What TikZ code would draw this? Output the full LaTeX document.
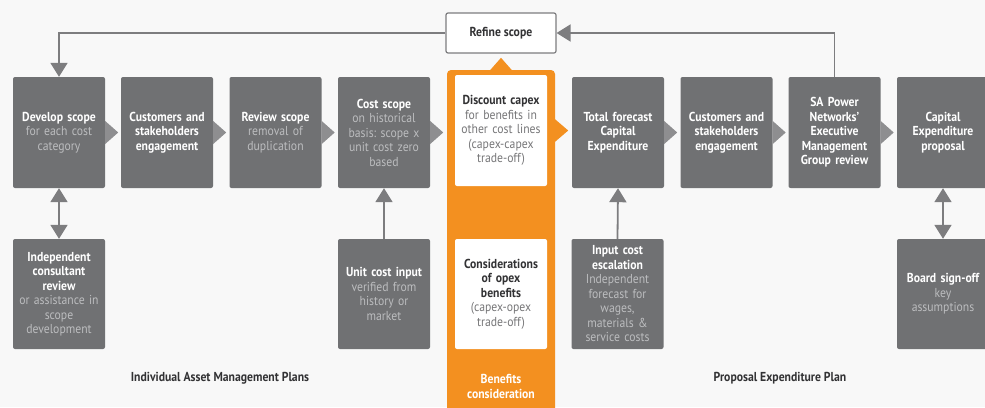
\documentclass[tikz,border=0pt]{standalone}
\usepackage{fontspec}
\setmainfont[FakeStretch=0.9]{PT Sans}
\usetikzlibrary{arrows.meta}
\definecolor{bg}{RGB}{248,248,248}
\definecolor{boxgray}{RGB}{112,113,115}
\definecolor{chev}{RGB}{142,142,144}
\definecolor{subgray}{RGB}{188,189,191}
\definecolor{linegray}{RGB}{125,125,127}
\definecolor{darktext}{RGB}{50,50,52}
\definecolor{midtext}{RGB}{118,118,120}
\definecolor{orng}{RGB}{243,144,32}
\newcommand\lite[1]{{\mdseries\color{subgray}#1}}
\newcommand\soft[1]{{\mdseries\color{midtext}#1}}
\frenchspacing
\begin{document}
\begin{tikzpicture}[x=1pt,y=-1pt,
  txt/.style={font=\fontsize{13}{14.5}\selectfont\bfseries, align=center},
  stage/.style={txt, fill=boxgray, text=white, rounded corners=2pt,
    minimum width=92pt, minimum height=111pt, inner sep=0pt, text width=90pt},
  inputbox/.style={stage, minimum height=110pt},
  whitebox/.style={stage, fill=white, text=darktext},
  conn/.style={draw=linegray, line width=1.8pt},
  tip/.tip={Triangle[width=17pt,length=14pt]},
  label/.style={txt, text=darktext}]
\useasboundingbox (0,0) rectangle (985,407);
\fill[bg] (0,0) rectangle (985,407);

% benefits panel behind the two white boxes
\node[fill=orng, rounded corners=4pt, minimum width=108pt, minimum height=345pt, inner sep=0pt] (ben) at (501,242.5) {};
\fill[orng, shift={(ben.north)}] (-11,0.5) -- (0,-12) -- (11,0.5) -- cycle;

% top row of process stages
\node[stage] (b1) at (59,132.5) {Develop scope\\\lite{for each cost\\category}};
\node[stage] (b2) at (167,132.5) {Customers and\\stakeholders\\engagement};
\node[stage] (b3) at (275.5,132.5) {Review scope\\\lite{removal of\\duplication}};
\node[stage] (b4) at (384,132.5) {Cost scope\\\lite{on historical\\basis: scope x\\unit cost zero\\based}};
\node[whitebox] (disc) at (501,130.5) {Discount capex\\\soft{for benefits in\\other cost lines\\(capex-capex\\trade-off)}};
\node[stage] (b5) at (618,132.5) {Total forecast\\Capital\\Expenditure};
\node[stage] (b6) at (726.5,132.5) {Customers and\\stakeholders\\engagement};
\node[stage] (b7) at (834.5,132.5) {SA Power\\Networks'\\Executive\\Management\\Group review};
\node[stage] (b8) at (943,132.5) {Capital\\Expenditure\\proposal};

% bottom row of inputs
\node[inputbox] (ia) at (59,294) {Independent\\consultant\\review\\\lite{or assistance in\\scope\\development}};
\node[inputbox] (ib) at (384,294) {Unit cost input\\\lite{verified from\\history or\\market}};
\node[whitebox, minimum height=110pt] (opex) at (501,294) {Considerations\\of opex\\benefits\\\soft{(capex-opex\\trade-off)}};
\node[inputbox] (ic) at (617.5,294) {Input cost\\escalation\\\lite{Independent\\forecast for\\wages,\\materials \&\\service costs}};
\node[inputbox] (id) at (943,294) {Board sign-off\\\lite{key\\assumptions}};

\node[txt, text=white] (benlbl) at (501,386.5) {Benefits\\consideration};

% refine scope feedback box
\node[txt, text=darktext, draw=linegray, line width=1.2pt, fill=white, rounded corners=2pt,
  minimum width=110pt, minimum height=40pt, inner sep=0pt] (refine) at (501,33) {Refine scope};

% chevrons between stages
\foreach \n in {b1,b2,b3,b4,b5,b6,b7}
  \fill[chev, shift={(\n.east)}] (0,-11.5) -- (13,0) -- (0,11.5) -- cycle;
\fill[orng, shift={(ben.east |- disc.east)}] (-1,-12) -- (13,0) -- (-1,12) -- cycle;

% connectors
\draw[conn, -tip] (refine.west) -| (b1.north);
\draw[conn, -tip] (b7.north) |- (refine.east);
\draw[conn, tip-tip] (b1.south) -- (ia.north);
\draw[conn, -tip] (ib.north) -- (b4.south);
\draw[conn, -tip] (ic.north) -- (b5.south);
\draw[conn, tip-tip] (b8.south) -- (id.north);

% section labels
\node[label] (iamp) at (220,378) {Individual Asset Management Plans};
\node[label] (pep) at (780,378) {Proposal Expenditure Plan};
\end{tikzpicture}
\end{document}
